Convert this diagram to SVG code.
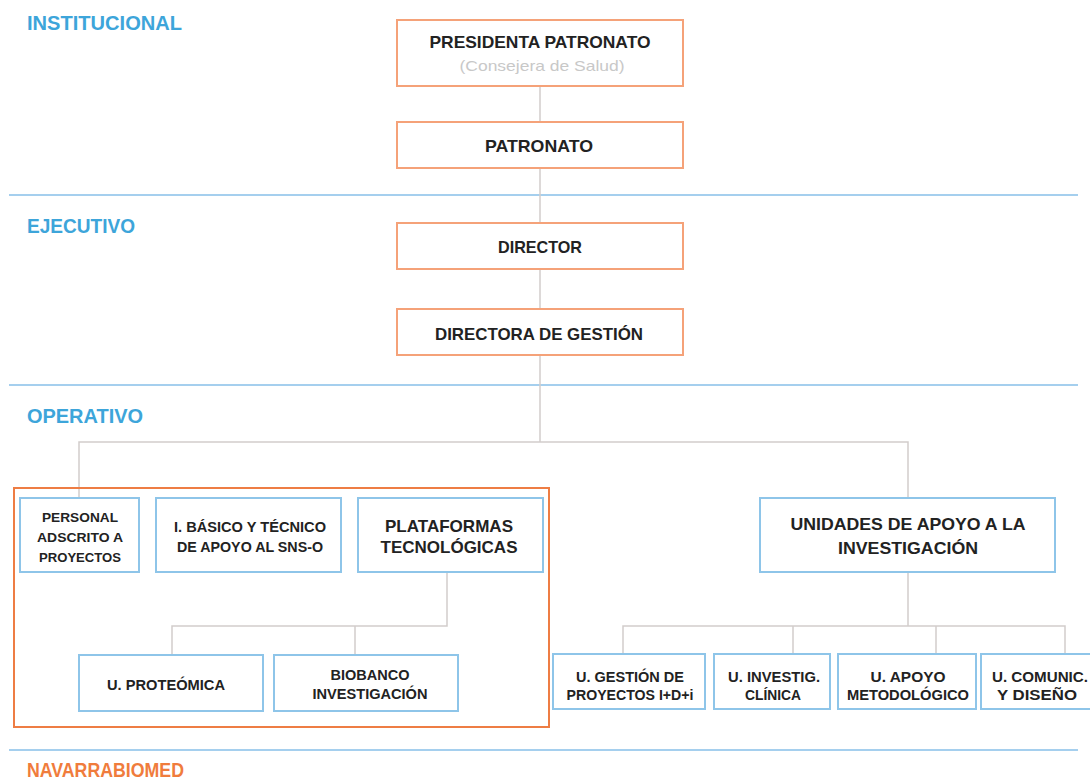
<svg xmlns="http://www.w3.org/2000/svg" width="1090" height="782" viewBox="0 0 1090 782">
<style>
.hdr{font-family:"Liberation Sans",Arial,sans-serif;font-weight:bold;font-size:21px;fill:#3DA5DA}
.nav{fill:#F07C3C}
.band{stroke:#A5CFEE;stroke-width:2}
.ob{fill:#fff;stroke:#F5A279;stroke-width:2}
.bb{fill:#fff;stroke:#8EC5E9;stroke-width:2}
.cont{fill:none;stroke:#EE7D44;stroke-width:2}
.t{font-family:"Liberation Sans",Arial,sans-serif;font-weight:bold;fill:#222;text-anchor:middle}
.t17{font-size:17px}
.t14{font-size:14px}
.t13{font-size:13px}
.sub{font-family:"Liberation Sans",Arial,sans-serif;font-size:15px;fill:#C8C8C8;text-anchor:middle}
.c{fill:none;stroke:#D2CDCB;stroke-width:1.5}
</style>
<rect width="1090" height="782" fill="#fff"/>
<g id="bands">
<line class="band" x1="9" y1="195" x2="1078" y2="195"/>
<line class="band" x1="9" y1="385" x2="1078" y2="385"/>
<line class="band" x1="9" y1="750" x2="1078" y2="750"/>
<text class="hdr" x="27" y="30" textLength="155" lengthAdjust="spacingAndGlyphs">INSTITUCIONAL</text>
<text class="hdr" x="27" y="233" textLength="108" lengthAdjust="spacingAndGlyphs">EJECUTIVO</text>
<text class="hdr" x="27" y="423" textLength="116" lengthAdjust="spacingAndGlyphs">OPERATIVO</text>
<text class="hdr nav" x="27" y="777" textLength="157" lengthAdjust="spacingAndGlyphs">NAVARRABIOMED</text>
</g>
<g id="connectors">
<line class="c" x1="540" y1="86" x2="540" y2="122"/>
<line class="c" x1="540" y1="168" x2="540" y2="223"/>
<line class="c" x1="540" y1="269" x2="540" y2="309"/>
<line class="c" x1="540" y1="355" x2="540" y2="442"/>
<polyline class="c" points="79,498 79,442 908,442 908,498"/>
<polyline class="c" points="447,572 447,626 172,626 172,655"/>
<line class="c" x1="355" y1="626" x2="355" y2="655"/>
<line class="c" x1="908" y1="572" x2="908" y2="626" stroke-width="3"/>
<polyline class="c" points="623,654 623,626 1065,626 1065,654"/>
<line class="c" x1="793" y1="626" x2="793" y2="654"/>
<line class="c" x1="936" y1="626" x2="936" y2="654"/>
</g>
<g id="container">
<rect class="cont" x="14" y="488" width="535" height="239"/>
</g>
<g id="presidenta">
<rect class="ob" x="397" y="20" width="286" height="66"/>
<text class="t t17" x="540" y="48" textLength="221" lengthAdjust="spacingAndGlyphs">PRESIDENTA PATRONATO</text>
<text class="sub" x="542" y="71" textLength="165" lengthAdjust="spacingAndGlyphs">(Consejera de Salud)</text>
</g>
<g id="patronato">
<rect class="ob" x="397" y="122" width="286" height="46"/>
<text class="t t17" x="539" y="152" textLength="108" lengthAdjust="spacingAndGlyphs">PATRONATO</text>
</g>
<g id="director">
<rect class="ob" x="397" y="223" width="286" height="46"/>
<text class="t t17" x="540" y="253" textLength="84" lengthAdjust="spacingAndGlyphs">DIRECTOR</text>
</g>
<g id="directora">
<rect class="ob" x="397" y="309" width="286" height="46"/>
<text class="t t17" x="539" y="340" textLength="208" lengthAdjust="spacingAndGlyphs">DIRECTORA DE GESTIÓN</text>
</g>
<g id="personal">
<rect class="bb" x="20" y="498" width="119" height="74"/>
<text class="t t13" x="80" y="522" textLength="76" lengthAdjust="spacingAndGlyphs">PERSONAL</text>
<text class="t t13" x="80" y="542" textLength="86" lengthAdjust="spacingAndGlyphs">ADSCRITO A</text>
<text class="t t13" x="80" y="562" textLength="82" lengthAdjust="spacingAndGlyphs">PROYECTOS</text>
</g>
<g id="basico">
<rect class="bb" x="156" y="498" width="185" height="74"/>
<text class="t t14" x="250" y="532" textLength="152" lengthAdjust="spacingAndGlyphs">I. BÁSICO Y TÉCNICO</text>
<text class="t t14" x="250" y="552" textLength="146" lengthAdjust="spacingAndGlyphs">DE APOYO AL SNS-O</text>
</g>
<g id="plataformas">
<rect class="bb" x="358" y="498" width="185" height="74"/>
<text class="t t17" x="449" y="532" textLength="128" lengthAdjust="spacingAndGlyphs">PLATAFORMAS</text>
<text class="t t17" x="449" y="553" textLength="137" lengthAdjust="spacingAndGlyphs">TECNOLÓGICAS</text>
</g>
<g id="proteomica">
<rect class="bb" x="79" y="655" width="184" height="56"/>
<text class="t t14" x="166" y="690" textLength="118" lengthAdjust="spacingAndGlyphs">U. PROTEÓMICA</text>
</g>
<g id="biobanco">
<rect class="bb" x="274" y="655" width="184" height="56"/>
<text class="t t14" x="370" y="680" textLength="79" lengthAdjust="spacingAndGlyphs">BIOBANCO</text>
<text class="t t14" x="370" y="699" textLength="115" lengthAdjust="spacingAndGlyphs">INVESTIGACIÓN</text>
</g>
<g id="unidades">
<rect class="bb" x="760" y="498" width="295" height="74"/>
<text class="t t17" x="908" y="530" textLength="235" lengthAdjust="spacingAndGlyphs">UNIDADES DE APOYO A LA</text>
<text class="t t17" x="908" y="554" textLength="140" lengthAdjust="spacingAndGlyphs">INVESTIGACIÓN</text>
</g>
<g id="gestion">
<rect class="bb" x="553" y="654" width="152" height="55"/>
<text class="t t14" x="630" y="682" textLength="108" lengthAdjust="spacingAndGlyphs">U. GESTIÓN DE</text>
<text class="t t14" x="630" y="700" textLength="127" lengthAdjust="spacingAndGlyphs">PROYECTOS I+D+i</text>
</g>
<g id="investig">
<rect class="bb" x="714" y="654" width="116" height="55"/>
<text class="t t14" x="774" y="682" textLength="92" lengthAdjust="spacingAndGlyphs">U. INVESTIG.</text>
<text class="t t14" x="773" y="700" textLength="56" lengthAdjust="spacingAndGlyphs">CLÍNICA</text>
</g>
<g id="apoyo">
<rect class="bb" x="838" y="654" width="138" height="55"/>
<text class="t t14" x="908" y="682" textLength="75" lengthAdjust="spacingAndGlyphs">U. APOYO</text>
<text class="t t14" x="908" y="700" textLength="122" lengthAdjust="spacingAndGlyphs">METODOLÓGICO</text>
</g>
<g id="comunic">
<rect class="bb" x="981" y="654" width="116" height="55"/>
<text class="t t14" x="1040" y="682" textLength="96" lengthAdjust="spacingAndGlyphs">U. COMUNIC.</text>
<text class="t t14" x="1037" y="700" textLength="80" lengthAdjust="spacingAndGlyphs">Y DISEÑO</text>
</g>
</svg>
